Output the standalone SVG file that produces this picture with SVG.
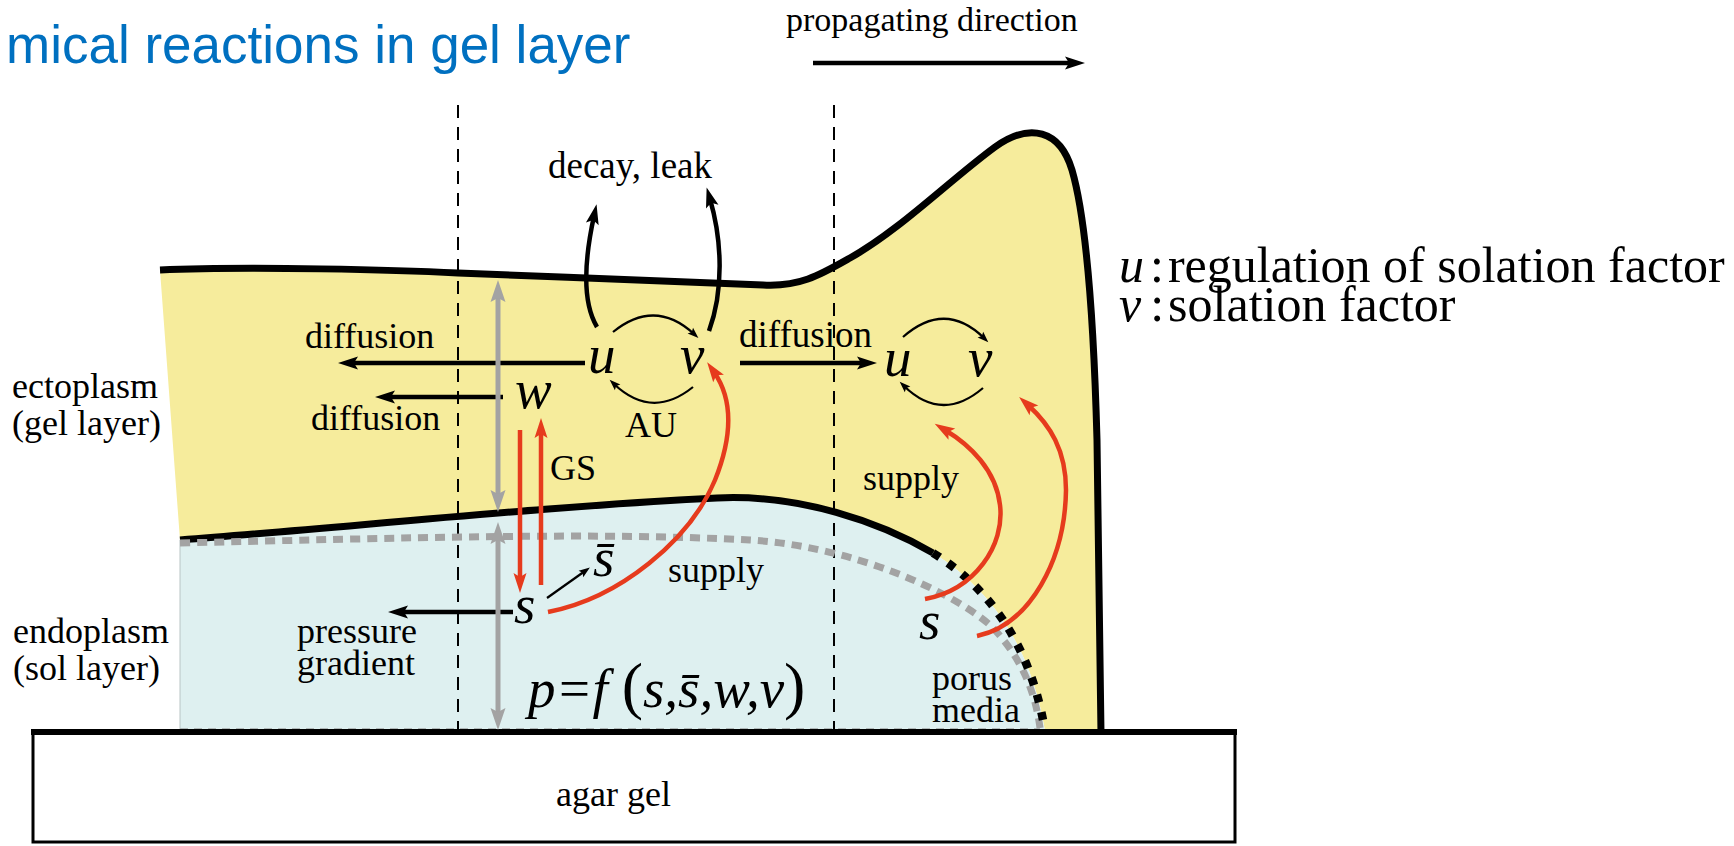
<svg xmlns="http://www.w3.org/2000/svg" width="1734" height="846" viewBox="0 0 1734 846">
  <style>
    .lbl { font-family: "Liberation Serif", "Times New Roman", serif; font-size: 36px; fill: #000; }
    .var { font-family: "Liberation Serif", "Times New Roman", serif; font-style: italic; font-size: 55px; fill: #000; }
    .leg { font-family: "Liberation Serif", "Times New Roman", serif; font-size: 50px; fill: #000; }
    .title { font-family: "Liberation Sans", Arial, sans-serif; font-size: 53px; fill: #0070C0; }
    .guide { stroke: #000; stroke-width: 2; stroke-dasharray: 13 9; fill: none; }
    .thick { stroke: #000; stroke-width: 4.5; fill: none; }
    .thin { stroke: #000; stroke-width: 2.2; fill: none; }
    .red { stroke: #E63B1D; stroke-width: 4.5; fill: none; }
    .gray { stroke: #A3A3A3; stroke-width: 5; fill: none; }
  </style>
  <defs>
    <marker id="ahBlack" viewBox="-10 -8 24 16" markerWidth="24" markerHeight="16" refX="0" refY="0" orient="auto" markerUnits="userSpaceOnUse">
      <path d="M12,0 L-8,-6.5 L-4,0 L-8,6.5 Z" fill="#000"/>
    </marker>
    <marker id="ahRed" viewBox="-10 -8 24 16" markerWidth="24" markerHeight="16" refX="0" refY="0" orient="auto" markerUnits="userSpaceOnUse">
      <path d="M12,0 L-8,-6.5 L-4,0 L-8,6.5 Z" fill="#E63B1D"/>
    </marker>
    <marker id="ahGray" viewBox="-12 -9 26 18" markerWidth="26" markerHeight="18" refX="0" refY="0" orient="auto-start-reverse" markerUnits="userSpaceOnUse">
      <path d="M12,0 L-10,-7.5 L-6,0 L-10,7.5 Z" fill="#A3A3A3"/>
    </marker>
    <marker id="ahThin" viewBox="-6 -5 13 10" markerWidth="13" markerHeight="10" refX="0" refY="0" orient="auto" markerUnits="userSpaceOnUse">
      <path d="M6,0 L-5,-4 L-3,0 L-5,4 Z" fill="#000"/>
    </marker>
  </defs>

  <rect width="1734" height="846" fill="#fff"/>

  <!-- heading and legend -->
  <text class="title" x="6" y="63">mical reactions in gel layer</text>
  <g id="legend">
    <text class="leg" x="1119" y="282"><tspan font-style="italic">u</tspan><tspan dx="6">:</tspan><tspan dx="4">regulation of solation factor</tspan></text>
    <text class="leg" x="1119" y="321"><tspan font-style="italic">v</tspan><tspan dx="9">:</tspan><tspan dx="4">solation factor</tspan></text>
  </g>

  <!-- cell body: ectoplasm (gel) and endoplasm (sol) -->
  <g id="ectoplasm">
    <path d="M160,270 C250,266 400,270 458,273 C560,277 700,282 763,285 C800,287 820,275 850,258 C900,230 950,180 995,147 C1030,122 1060,130 1072,170 C1088,225 1094,330 1097,440 L1101,731 L1045,731 C1030,640 985,585 933,553 C880,522 800,494 717,498 C550,506 350,527 180,540 Z" fill="#F6EC9C"/>
  </g>
  <g id="endoplasm">
    <path d="M180,540 C350,527 550,506 717,498 C800,494 880,522 933,553 C985,585 1030,640 1045,731 L180,731 Z" fill="#DEF0F0"/>
    <line x1="180" y1="540" x2="180" y2="731" stroke="#B8C4C4" stroke-width="1"/>
    <line x1="180" y1="729" x2="1040" y2="729" stroke="#B0B8B8" stroke-width="2" stroke-dasharray="8 6"/>
  </g>

  <!-- section guides -->
  <line class="guide" x1="458" y1="105" x2="458" y2="731"/>
  <line class="guide" x1="834" y1="105" x2="834" y2="731"/>

  <!-- membranes and boundaries -->
  <g id="boundaries">
    <path d="M160,270 C250,266 400,270 458,273 C560,277 700,282 763,285 C800,287 820,275 850,258 C900,230 950,180 995,147 C1030,122 1060,130 1072,170 C1088,225 1094,330 1097,440 L1101,733" fill="none" stroke="#000" stroke-width="7"/>
    <path d="M180,540 C350,527 550,506 717,498 C800,494 880,522 933,553" fill="none" stroke="#000" stroke-width="7"/>
    <path d="M180,543 C400,538 600,532 750,540 C850,546 950,590 990,625 C1020,655 1035,690 1040,728" fill="none" stroke="#A3A3A3" stroke-width="7" stroke-dasharray="10 7"/>
    <path d="M933,553 C985,585 1030,640 1045,731" fill="none" stroke="#000" stroke-width="8.5" stroke-dasharray="8 10"/>
  </g>

  <!-- agar substrate -->
  <g id="agar">
    <rect x="33" y="732" width="1202" height="110" fill="#fff" stroke="#000" stroke-width="3"/>
    <line x1="31" y1="732" x2="1237" y2="732" stroke="#000" stroke-width="6"/>
    <text class="lbl" x="556" y="806">agar gel</text>
  </g>

  <!-- arrows -->
  <g id="connectors">
    <line class="thick" x1="813" y1="63" x2="1073" y2="63" stroke-width="5" marker-end="url(#ahBlack)"/>
    <path class="thick" d="M597,327 C582,302 584,262 594,216" marker-end="url(#ahBlack)"/>
    <path class="thick" d="M709,331 C724,290 722,240 710,199" marker-end="url(#ahBlack)"/>
    <line class="thick" x1="585" y1="363" x2="350" y2="363" marker-end="url(#ahBlack)"/>
    <line class="thick" x1="503" y1="397" x2="387" y2="397" marker-end="url(#ahBlack)"/>
    <line class="thick" x1="513" y1="612" x2="400" y2="612" marker-end="url(#ahBlack)"/>
    <line class="thick" x1="740" y1="363" x2="865" y2="363" marker-end="url(#ahBlack)"/>
    <path class="thin" d="M613,332 Q655,298 694,334" marker-end="url(#ahThin)"/>
    <path class="thin" d="M693,387 Q652,420 614,384" marker-end="url(#ahThin)"/>
    <path class="thin" d="M903,337 Q945,300 984,338" marker-end="url(#ahThin)"/>
    <path class="thin" d="M983,388 Q942,423 904,386" marker-end="url(#ahThin)"/>
    <line class="thin" x1="547" y1="598" x2="585" y2="571" marker-end="url(#ahThin)"/>
    <line class="gray" x1="498" y1="292" x2="498" y2="500" marker-start="url(#ahGray)" marker-end="url(#ahGray)"/>
    <line class="gray" x1="498" y1="534" x2="498" y2="718" marker-start="url(#ahGray)" marker-end="url(#ahGray)"/>
    <line class="red" x1="520" y1="430" x2="520" y2="581" marker-end="url(#ahRed)"/>
    <line class="red" x1="541" y1="585" x2="541" y2="430" marker-end="url(#ahRed)"/>
    <path class="red" d="M548,612 C620,598 690,540 715,480 C735,430 730,395 714,372" marker-end="url(#ahRed)"/>
    <path class="red" d="M925,599 C975,590 1005,545 1000,505 C996,470 970,445 945,430" marker-end="url(#ahRed)"/>
    <path class="red" d="M977,636 C1030,625 1065,560 1066,490 C1066,450 1050,425 1028,405" marker-end="url(#ahRed)"/>
  </g>

  <!-- labels -->
  <g id="labels">
    <text class="lbl" x="786" y="31" style="font-size:34px">propagating direction</text>
    <text class="lbl" x="548" y="178" style="font-size:37px">decay, leak</text>
    <text class="lbl" x="12" y="398">ectoplasm</text>
    <text class="lbl" x="12" y="435">(gel layer)</text>
    <text class="lbl" x="13" y="643">endoplasm</text>
    <text class="lbl" x="13" y="680">(sol layer)</text>
    <text class="lbl" x="305" y="348">diffusion</text>
    <text class="lbl" x="311" y="430">diffusion</text>
    <text class="lbl" x="739" y="347" style="font-size:37px">diffusion</text>
    <text class="lbl" x="297" y="643">pressure</text>
    <text class="lbl" x="297" y="675">gradient</text>
    <text class="lbl" x="625" y="437">AU</text>
    <text class="lbl" x="550" y="480">GS</text>
    <text class="lbl" x="668" y="582">supply</text>
    <text class="lbl" x="863" y="490">supply</text>
    <text class="lbl" x="932" y="690">porus</text>
    <text class="lbl" x="932" y="722">media</text>
  </g>
  <g id="variables">
    <text class="var" x="588" y="373">u</text>
    <text class="var" x="680" y="373">v</text>
    <text class="var" x="515" y="408">w</text>
    <text class="var" x="514" y="623">s</text>
    <text class="var" x="593" y="576">s̄</text>
    <text class="var" x="884" y="376">u</text>
    <text class="var" x="968" y="376">v</text>
    <text class="var" x="919" y="639">s</text>
    <text class="var" x="528" y="707">p=f <tspan font-style="normal" font-size="64">(</tspan>s,s̄,w,v<tspan font-style="normal" font-size="64">)</tspan></text>
  </g>
</svg>
